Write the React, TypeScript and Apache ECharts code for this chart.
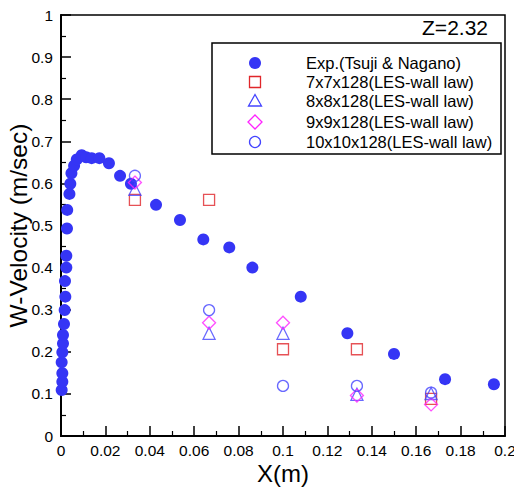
import React, { useEffect, useRef } from "react";
import * as echarts from "echarts";

// Experimental data (Tsuji & Nagano)
const expX = [0.0003, 0.0006, 0.0006, 0.0003, 0.0006, 0.0009, 0.0009, 0.00135, 0.00165, 0.00195, 0.0018, 0.0024, 0.0024, 0.0027, 0.0028, 0.0038, 0.0042, 0.0047, 0.0059, 0.0071, 0.0093, 0.0113, 0.0138, 0.0173, 0.0216, 0.0266, 0.0315, 0.0428, 0.0536, 0.0641, 0.0758, 0.0862, 0.108, 0.129, 0.15, 0.173, 0.195];
const expY = [0.109, 0.129, 0.149, 0.175, 0.199, 0.22, 0.24, 0.266, 0.299, 0.331, 0.368, 0.4, 0.428, 0.493, 0.537, 0.575, 0.599, 0.624, 0.642, 0.657, 0.667, 0.662, 0.66, 0.66, 0.648, 0.618, 0.599, 0.549, 0.513, 0.467, 0.448, 0.4, 0.331, 0.244, 0.195, 0.135, 0.123];

// LES results
const simX = [0.0333, 0.0667, 0.1, 0.1333, 0.1667];
const les7 = [0.561, 0.561, 0.206, 0.206, 0.088];
const les8 = [0.586, 0.244, 0.244, 0.099, 0.101];
const les9 = [0.602, 0.269, 0.269, 0.096, 0.075];
const les10 = [0.618, 0.299, 0.119, 0.119, 0.103];

const legendNames = [
  "Exp.(Tsuji & Nagano)",
  "7x7x128(LES-wall law)",
  "8x8x128(LES-wall law)",
  "9x9x128(LES-wall law)",
  "10x10x128(LES-wall law)",
];

const FONT = "'Liberation Sans', Arial, Helvetica, sans-serif";
const BLUE = "#3535f5";
const BLUE2 = "#4444ff";
const RED = "#e0262a";
const MAG = "#ff22ff";

const zip = (xs: number[], ys: number[]) => xs.map((x, i) => [x, ys[i]]);

export default function App() {
  const ref = useRef<HTMLDivElement>(null);
  useEffect(() => {
    if (!ref.current) return;
    const chart = echarts.init(ref.current, undefined, { renderer: "svg" });
    const lx = 255;
    const tx = 306;
    const rows = [63, 82, 101, 122, 142];
    const option: any = {
      animation: false,
      backgroundColor: "#fff",
      grid: {
        left: 61,
        top: 15,
        right: 9,
        bottom: 58,
        outerBoundsMode: "none",
        containLabel: false,
        show: true,
        borderColor: "#000",
        borderWidth: 1.5,
        backgroundColor: "transparent",
      },
      xAxis: {
        type: "value",
        min: 0,
        max: 0.2,
        interval: 0.02,
        name: "X(m)",
        nameLocation: "middle",
        nameGap: 25,
        nameMoveOverlap: false,
        nameTextStyle: { fontSize: 24, color: "#000", fontFamily: FONT },
        axisLine: { show: true, onZero: false, lineStyle: { color: "#000", width: 2 } },
        axisTick: { show: true, inside: true, length: 10, lineStyle: { color: "#000", width: 1.5 } },
        minorTick: { show: true, splitNumber: 2, length: 5, lineStyle: { color: "#000", width: 1.2 } },
        axisLabel: { fontSize: 15.5, color: "#000", fontFamily: FONT, margin: 6, showMaxLabel: true },
        splitLine: { show: false },
      },
      yAxis: {
        type: "value",
        min: 0,
        max: 1,
        interval: 0.1,
        name: "W-Velocity (m/sec)",
        nameLocation: "middle",
        nameGap: 30,
        nameMoveOverlap: false,
        nameTextStyle: { fontSize: 24.5, color: "#000", fontFamily: FONT },
        axisLine: { show: true, onZero: false, lineStyle: { color: "#000", width: 2 } },
        axisTick: { show: true, inside: true, length: 10, lineStyle: { color: "#000", width: 1.5 } },
        minorTick: { show: true, splitNumber: 2, length: 5, lineStyle: { color: "#000", width: 1.2 } },
        axisLabel: { fontSize: 15.5, color: "#000", fontFamily: FONT, margin: 8 },
        splitLine: { show: false },
      },
      series: [
        {
          name: legendNames[0],
          type: "scatter",
          data: zip(expX, expY),
          symbol: "circle",
          symbolSize: 12,
          itemStyle: { color: BLUE, opacity: 1 },
          z: 2,
        },
        {
          name: legendNames[1],
          type: "scatter",
          data: zip(simX, les7),
          symbol: "rect",
          symbolSize: 11,
          itemStyle: { color: "rgba(0,0,0,0)", borderColor: RED, borderWidth: 1.3 },
          z: 3,
        },
        {
          name: legendNames[2],
          type: "scatter",
          data: zip(simX, les8),
          symbol: "triangle",
          symbolSize: 12,
          itemStyle: { color: "rgba(0,0,0,0)", borderColor: BLUE2, borderWidth: 1.3 },
          z: 4,
        },
        {
          name: legendNames[3],
          type: "scatter",
          data: zip(simX, les9),
          symbol: "diamond",
          symbolSize: 13,
          itemStyle: { color: "rgba(0,0,0,0)", borderColor: MAG, borderWidth: 1.3 },
          z: 5,
        },
        {
          name: legendNames[4],
          type: "scatter",
          data: zip(simX, les10),
          symbol: "circle",
          symbolSize: 11,
          itemStyle: { color: "rgba(0,0,0,0)", borderColor: BLUE2, borderWidth: 1.3 },
          z: 6,
        },
      ],
      graphic: [
        {
          type: "text",
          right: 26,
          top: 17,
          style: { text: "Z=2.32", fontSize: 21, fill: "#000", fontFamily: FONT },
        },
        {
          type: "rect",
          shape: { x: 212, y: 43, width: 289, height: 111 },
          style: { fill: "#fff", stroke: "#000", lineWidth: 1.5 },
          z: 10,
        },
        {
          type: "circle",
          shape: { cx: lx, cy: rows[0], r: 6 },
          style: { fill: BLUE },
          z: 11,
        },
        {
          type: "rect",
          shape: { x: lx - 5.5, y: rows[1] - 5.5, width: 11, height: 11 },
          style: { fill: "none", stroke: RED, lineWidth: 1.3 },
          z: 11,
        },
        {
          type: "polygon",
          shape: { points: [[lx, rows[2] - 6.5], [lx + 6.5, rows[2] + 5], [lx - 6.5, rows[2] + 5]] },
          style: { fill: "none", stroke: BLUE2, lineWidth: 1.3 },
          z: 11,
        },
        {
          type: "polygon",
          shape: { points: [[lx, rows[3] - 7], [lx + 7, rows[3]], [lx, rows[3] + 7], [lx - 7, rows[3]]] },
          style: { fill: "none", stroke: MAG, lineWidth: 1.3 },
          z: 11,
        },
        {
          type: "circle",
          shape: { cx: lx, cy: rows[4], r: 5.5 },
          style: { fill: "none", stroke: BLUE2, lineWidth: 1.3 },
          z: 11,
        },
        ...legendNames.map((n, i) => ({
          type: "text",
          x: tx,
          y: rows[i],
          style: {
            text: n,
            fontSize: 16.5,
            fill: "#000",
            fontFamily: FONT,
            verticalAlign: "middle",
            textAlign: "left",
          },
          z: 11,
        })),
      ],
    };
    chart.setOption(option);
    return () => chart.dispose();
  }, []);
  return <div ref={ref} style={{ width: 514, height: 494, position: "absolute", left: 0, top: 0 }} />;
}
